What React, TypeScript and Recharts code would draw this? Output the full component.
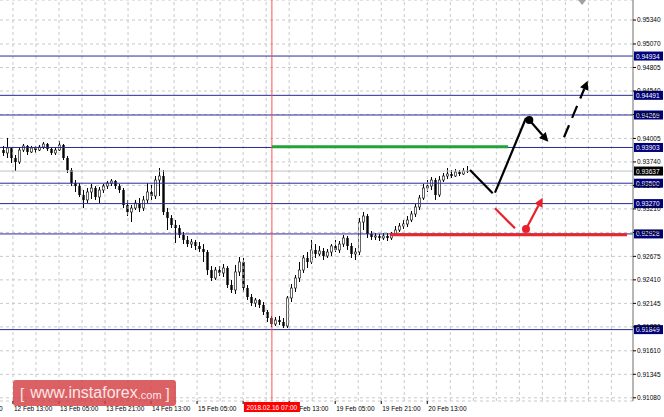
import React from 'react';
import { ComposedChart, Bar, XAxis, YAxis, CartesianGrid, ReferenceLine, ReferenceDot } from 'recharts';

// [open, high, low, close]
const candles: [number, number, number, number][] = [
  [0.93874, 0.93920, 0.93807, 0.93841], [0.93841, 0.94010, 0.93784, 0.93897], [0.93897, 0.93908, 0.93728, 0.93784],
  [0.93784, 0.93818, 0.93638, 0.93739], [0.93739, 0.93897, 0.93717, 0.93874], [0.93874, 0.93942, 0.93852, 0.93920],
  [0.93920, 0.93931, 0.93818, 0.93852], [0.93852, 0.93920, 0.93841, 0.93897], [0.93897, 0.93920, 0.93841, 0.93874],
  [0.93874, 0.93931, 0.93863, 0.93908], [0.93908, 0.93965, 0.93886, 0.93942], [0.93942, 0.93953, 0.93863, 0.93886],
  [0.93886, 0.93908, 0.93818, 0.93841], [0.93841, 0.93897, 0.93818, 0.93874], [0.93874, 0.93976, 0.93863, 0.93931],
  [0.93931, 0.93942, 0.93762, 0.93784], [0.93784, 0.93807, 0.93615, 0.93649], [0.93649, 0.93671, 0.93468, 0.93502],
  [0.93502, 0.93536, 0.93401, 0.93468], [0.93468, 0.93502, 0.93344, 0.93367], [0.93367, 0.93423, 0.93220, 0.93311],
  [0.93311, 0.93446, 0.93277, 0.93401], [0.93401, 0.93491, 0.93322, 0.93446], [0.93446, 0.93468, 0.93311, 0.93344],
  [0.93344, 0.93457, 0.93277, 0.93423], [0.93423, 0.93491, 0.93390, 0.93468], [0.93468, 0.93525, 0.93435, 0.93502],
  [0.93502, 0.93547, 0.93468, 0.93525], [0.93525, 0.93536, 0.93435, 0.93468], [0.93468, 0.93491, 0.93390, 0.93423],
  [0.93423, 0.93446, 0.93220, 0.93254], [0.93254, 0.93311, 0.93130, 0.93175], [0.93175, 0.93254, 0.93062, 0.93220],
  [0.93220, 0.93311, 0.93198, 0.93277], [0.93277, 0.93333, 0.93175, 0.93220], [0.93220, 0.93356, 0.93187, 0.93311],
  [0.93311, 0.93502, 0.93277, 0.93401], [0.93401, 0.93480, 0.93311, 0.93356], [0.93356, 0.93581, 0.93322, 0.93536],
  [0.93536, 0.93671, 0.93356, 0.93581], [0.93581, 0.93649, 0.93141, 0.93175], [0.93175, 0.93220, 0.92972, 0.93108],
  [0.93108, 0.93141, 0.92995, 0.93029], [0.93029, 0.93085, 0.92826, 0.92995], [0.92995, 0.93029, 0.92882, 0.92916],
  [0.92916, 0.92950, 0.92814, 0.92860], [0.92860, 0.92905, 0.92781, 0.92814], [0.92814, 0.92871, 0.92769, 0.92837],
  [0.92837, 0.92860, 0.92747, 0.92792], [0.92792, 0.92837, 0.92724, 0.92758], [0.92758, 0.92814, 0.92612, 0.92724],
  [0.92724, 0.92747, 0.92465, 0.92521], [0.92521, 0.92566, 0.92397, 0.92431], [0.92431, 0.92555, 0.92409, 0.92521],
  [0.92521, 0.92566, 0.92454, 0.92488], [0.92488, 0.92589, 0.92442, 0.92544], [0.92544, 0.92566, 0.92318, 0.92352],
  [0.92352, 0.92409, 0.92262, 0.92296], [0.92296, 0.92578, 0.92251, 0.92499], [0.92499, 0.92668, 0.92454, 0.92612],
  [0.92612, 0.92657, 0.92273, 0.92318], [0.92318, 0.92352, 0.92183, 0.92217], [0.92217, 0.92251, 0.92115, 0.92149],
  [0.92149, 0.92206, 0.92104, 0.92183], [0.92183, 0.92194, 0.92093, 0.92127], [0.92127, 0.92160, 0.92014, 0.92048],
  [0.92048, 0.92070, 0.91935, 0.91980], [0.91980, 0.92003, 0.91878, 0.91912], [0.91912, 0.91991, 0.91890, 0.91957],
  [0.91957, 0.92003, 0.91901, 0.91935], [0.91935, 0.91980, 0.91867, 0.91890], [0.91890, 0.92228, 0.91867, 0.92206],
  [0.92206, 0.92363, 0.92160, 0.92318], [0.92318, 0.92465, 0.92273, 0.92431], [0.92431, 0.92612, 0.92386, 0.92521],
  [0.92521, 0.92690, 0.92488, 0.92657], [0.92657, 0.92724, 0.92544, 0.92612], [0.92612, 0.92860, 0.92589, 0.92747],
  [0.92747, 0.92814, 0.92657, 0.92702], [0.92702, 0.92792, 0.92679, 0.92736], [0.92736, 0.92769, 0.92634, 0.92679],
  [0.92679, 0.92758, 0.92657, 0.92724], [0.92724, 0.92814, 0.92679, 0.92792], [0.92792, 0.92860, 0.92724, 0.92747],
  [0.92747, 0.92848, 0.92713, 0.92814], [0.92814, 0.92916, 0.92781, 0.92882], [0.92882, 0.92905, 0.92747, 0.92792],
  [0.92792, 0.92826, 0.92657, 0.92702], [0.92702, 0.92769, 0.92634, 0.92724], [0.92724, 0.93108, 0.92690, 0.93062],
  [0.93062, 0.93175, 0.92972, 0.93130], [0.93130, 0.93153, 0.92882, 0.92927], [0.92927, 0.92961, 0.92860, 0.92893],
  [0.92893, 0.92938, 0.92860, 0.92905], [0.92905, 0.92927, 0.92848, 0.92882], [0.92882, 0.92938, 0.92860, 0.92905],
  [0.92905, 0.92938, 0.92848, 0.92882], [0.92882, 0.92950, 0.92860, 0.92927], [0.92927, 0.93017, 0.92905, 0.92972],
  [0.92972, 0.93051, 0.92950, 0.93017], [0.93017, 0.93085, 0.92984, 0.93040], [0.93040, 0.93130, 0.93006, 0.93085],
  [0.93085, 0.93187, 0.93062, 0.93153], [0.93153, 0.93265, 0.93119, 0.93232], [0.93232, 0.93367, 0.93198, 0.93333],
  [0.93333, 0.93491, 0.93311, 0.93446], [0.93446, 0.93536, 0.93401, 0.93468], [0.93468, 0.93570, 0.93423, 0.93536],
  [0.93536, 0.93559, 0.93311, 0.93367], [0.93367, 0.93581, 0.93344, 0.93536], [0.93536, 0.93615, 0.93514, 0.93581],
  [0.93581, 0.93671, 0.93547, 0.93604], [0.93604, 0.93649, 0.93559, 0.93581], [0.93581, 0.93660, 0.93570, 0.93626],
  [0.93626, 0.93649, 0.93581, 0.93604], [0.93604, 0.93671, 0.93593, 0.93638], [0.93638, 0.93694, 0.93615, 0.93637],
];

const CHART_W = 664;
const CHART_H = 417;
const XAXIS_H = 16;
const YAXIS_W = 31;

const TOTAL_SLOTS = 158;
const Y_DOMAIN: [number, number] = [0.91044, 0.95566];
const TIME_DOMAIN: [number, number] = [0, 220];

const priceTicks = [
  0.9534, 0.9507, 0.94805, 0.9454, 0.94275, 0.94005, 0.9374, 0.93475, 0.9321,
  0.92945, 0.92675, 0.9241, 0.92145, 0.9188, 0.9161, 0.91345, 0.9108,
];
const levels = [0.94934, 0.94491, 0.94269, 0.93903, 0.935, 0.9327, 0.92928, 0.91849];
const currentPrice = 0.93637;

const timeLabels = [
  '9 Feb 21:00', '12 Feb 13:00', '13 Feb 05:00', '13 Feb 21:00', '14 Feb 13:00', '15 Feb 05:00',
  '15 Feb 21:00', '16 Feb 13:00', '19 Feb 05:00', '19 Feb 21:00', '20 Feb 13:00',
];
const timeLabelHours = [-11.5, 4.5, 20.5, 36.5, 52.5, 68.5, 84.5, 100.5, 116.5, 132.5, 148.5];
const gridHours = [
  4.5, 12.5, 20.5, 28.5, 36.5, 44.5, 52.5, 60.5, 68.5, 76.5, 84.5, 92.5, 100.5, 108.5,
  116.5, 124.5, 132.5, 140.5, 148.5, 156.5, 164.5, 172.5, 180.5, 188.5, 196.5, 204.5, 212.5,
];

const markerHour = 94.5;
const markerLabel = '2018.02.16 07:00';
const shiftMarkerHour = 202.3;

const greenLevel = { from: 94.5, to: 176.6, price: 0.9391 };
const redLevel = { from: 135.5, to: 217.9, price: 0.9292 };

type Seg = { x1: number; y1: number; x2: number; y2: number; color: string; dashed: boolean; head: boolean };
const arrowSegments: Seg[] = [
  { x1: 163.35, y1: 0.93649, x2: 171.24, y2: 0.93386, color: '#000', dashed: false, head: false },
  { x1: 172.04, y1: 0.93393, x2: 182.81, y2: 0.94235, color: '#000', dashed: false, head: false },
  { x1: 183.96, y1: 0.94213, x2: 190.56, y2: 0.93968, color: '#000', dashed: false, head: true },
  { x1: 196.02, y1: 0.94018, x2: 204.25, y2: 0.94656, color: '#000', dashed: true, head: true },
  { x1: 172.04, y1: 0.93217, x2: 178.99, y2: 0.92991, color: '#e8202a', dashed: false, head: false },
  { x1: 182.81, y1: 0.92984, x2: 188.62, y2: 0.93337, color: '#e8202a', dashed: false, head: true },
];
const arrowDots = [
  { x: 183.96, y: 0.94213, color: '#000' },
  { x: 182.81, y: 0.92984, color: '#e8202a' },
];

const FONT = 'Liberation Sans, Arial, sans-serif';

const chartData = Array.from({ length: TOTAL_SLOTS }, (_, i) => {
  const c = candles[i];
  if (!c) return { slot: i };
  return { slot: i, o: c[0], h: c[1], l: c[2], c: c[3], range: [c[2], c[1]] };
});

const Candle = (props: any) => {
  const { x, y, width, height, payload } = props;
  if (!payload || payload.o == null) return null;
  const { o, h, l, c } = payload;
  const top = Math.min(y, y + height);
  const hh = Math.abs(height);
  const span = h - l;
  const py = (p: number) => (span === 0 ? top : top + ((h - p) / span) * hh);
  const cx = Math.round(x + width / 2) + 0.5;
  const yo = py(o);
  const yc = py(c);
  const bt = Math.min(yo, yc);
  const bb = Math.max(yo, yc);
  const bull = c >= o;
  return (
    <g>
      <line x1={cx} x2={cx} y1={top} y2={top + hh} stroke="#000" strokeWidth={1} />
      {bull ? (
        <rect x={cx - 1} y={bt} width={2} height={Math.max(bb - bt, 1)} fill="#fff" stroke="#222" strokeWidth={0.7} />
      ) : (
        <rect x={cx - 1.2} y={bt} width={2.4} height={Math.max(bb - bt, 1)} fill="#000" />
      )}
    </g>
  );
};

const levelLabel = (value: number, bg: string) => (props: any) => {
  const vb = props.viewBox || {};
  const xr = (vb.x ?? 0) + (vb.width ?? 0);
  const y = vb.y ?? 0;
  return (
    <g>
      <rect x={xr + 1} y={y - 4.5} width={29} height={9} fill={bg} />
      <text x={xr + 3} y={y + 2.5} fontSize={6.5} fill="#fff" fontFamily={FONT}>
        {value.toFixed(5)}
      </text>
    </g>
  );
};

const arrowShape = (color: string, dashed: boolean, head: boolean) => (p: any) => {
  const { x1, y1, x2, y2 } = p;
  if ([x1, y1, x2, y2].some((v) => typeof v !== 'number' || isNaN(v))) return null;
  const dx = x2 - x1;
  const dy = y2 - y1;
  const len = Math.sqrt(dx * dx + dy * dy) || 1;
  const ux = dx / len;
  const uy = dy / len;
  const hl = head ? 9 : 0;
  const hw = 4.5;
  const ex = x2 - ux * hl;
  const ey = y2 - uy * hl;
  return (
    <g>
      <line x1={x1} y1={y1} x2={ex} y2={ey} stroke={color} strokeWidth={2.2} strokeDasharray={dashed ? '13 8' : undefined} />
      {head && (
        <polygon
          points={`${x2},${y2} ${ex - uy * hw},${ey + ux * hw} ${ex + uy * hw},${ey - ux * hw}`}
          fill={color}
        />
      )}
    </g>
  );
};

const triangleShape = (p: any) => {
  const { cx, cy } = p;
  if (typeof cx !== 'number') return null;
  return <polygon points={`${cx - 4},${cy} ${cx + 4},${cy} ${cx},${cy + 5}`} fill="#a0a0a0" />;
};

const AXIS_TOP = CHART_H - XAXIS_H;

const TimeTick = (props: any) => {
  const { x, payload } = props;
  if (typeof x !== 'number') return null;
  if (payload.value === markerHour) {
    return (
      <g>
        <rect x={x - 28} y={AXIS_TOP + 1} width={56} height={10} fill="#ff0000" />
        <text x={x} y={AXIS_TOP + 8.5} textAnchor="middle" fontSize={6.5} fill="#fff" fontFamily={FONT}>
          {markerLabel}
        </text>
      </g>
    );
  }
  const idx = timeLabelHours.indexOf(payload.value);
  if (idx < 0) return null;
  return (
    <g>
      <line x1={x} x2={x} y1={AXIS_TOP} y2={AXIS_TOP + 3} stroke="#000" />
      <text x={x + 1} y={AXIS_TOP + 10} fontSize={6.5} fill="#000" fontFamily={FONT}>
        {timeLabels[idx]}
      </text>
    </g>
  );
};

const timeAxisTicks = [...timeLabelHours, markerHour];

export default function App() {
  return (
    <div style={{ position: 'absolute', left: 0, top: 0, width: CHART_W, height: CHART_H, background: '#fff', fontFamily: FONT }}>
      <ComposedChart width={CHART_W} height={CHART_H} data={chartData} margin={{ top: 0, right: 0, bottom: 0, left: 0 }}>
        <CartesianGrid xAxisId="time" vertical={false} stroke="#c8c8c8" strokeDasharray="3 3" />
        <XAxis xAxisId="cat" dataKey="slot" type="category" hide />
        <XAxis
          xAxisId="time"
          dataKey="hourOfDay"
          type="number"
          domain={TIME_DOMAIN}
          allowDataOverflow
          ticks={timeAxisTicks}
          interval={0}
          height={XAXIS_H}
          tickSize={0.001}
          tickMargin={0.001}
          tickLine={false}
          axisLine={{ stroke: '#8a8a8a', strokeDasharray: '3 2' }}
          tick={<TimeTick />}
        />
        <YAxis
          orientation="right"
          type="number"
          width={YAXIS_W}
          domain={Y_DOMAIN}
          allowDataOverflow
          ticks={priceTicks}
          interval={0}
          tickSize={3}
          tickMargin={1}
          tickFormatter={(v: number) => v.toFixed(5)}
          tick={{ fontSize: 6.5, fill: '#000', fontFamily: FONT }}
          tickLine={{ stroke: '#000' }}
          axisLine={{ stroke: '#6e6e6e' }}
        />
        {gridHours.map((h) => (
          <ReferenceLine key={'g' + h} xAxisId="time" x={h} stroke="#c8c8c8" strokeDasharray="3 3" />
        ))}
        <ReferenceLine xAxisId="time" y={currentPrice} stroke="#c0c0c0" strokeWidth={1} label={levelLabel(currentPrice, '#000')} />
        {levels.map((v) => (
          <ReferenceLine key={v} xAxisId="time" y={v} stroke="#2a2a96" strokeWidth={1} label={levelLabel(v, '#00007a')} />
        ))}
        <Bar xAxisId="cat" dataKey="range" barSize={3} isAnimationActive={false} shape={<Candle />} />
        <ReferenceLine xAxisId="time" x={markerHour} stroke="#ff5050" strokeWidth={1} />
        <ReferenceLine
          xAxisId="time"
          segment={[{ x: greenLevel.from, y: greenLevel.price }, { x: greenLevel.to, y: greenLevel.price }]}
          stroke="#22a33a"
          strokeWidth={3}
        />
        <ReferenceLine
          xAxisId="time"
          segment={[{ x: redLevel.from, y: redLevel.price }, { x: redLevel.to, y: redLevel.price }]}
          stroke="#e8262e"
          strokeWidth={3}
        />
        {arrowSegments.map((s, i) => (
          <ReferenceLine
            key={'a' + i}
            xAxisId="time"
            segment={[{ x: s.x1, y: s.y1 }, { x: s.x2, y: s.y2 }]}
            shape={arrowShape(s.color, s.dashed, s.head)}
          />
        ))}
        {arrowDots.map((d, i) => (
          <ReferenceDot key={'d' + i} xAxisId="time" x={d.x} y={d.y} r={4} fill={d.color} stroke="none" />
        ))}
        <ReferenceDot xAxisId="time" x={shiftMarkerHour} y={Y_DOMAIN[1]} shape={triangleShape} />
      </ComposedChart>
      <div
        style={{
          position: 'absolute',
          left: 13,
          top: 380,
          width: 163,
          height: 26,
          background: 'rgba(212, 62, 66, 0.82)',
          borderRadius: 3,
          color: '#fbe6e6',
          whiteSpace: 'nowrap',
          display: 'flex',
          alignItems: 'center',
          paddingLeft: 7,
          boxSizing: 'border-box',
          fontFamily: FONT,
        }}
      >
        <span style={{ fontSize: 15 }}>[</span>
        <span style={{ fontSize: 16, marginLeft: 6 }}>www.instaforex</span>
        <span style={{ fontSize: 11, marginTop: 3 }}>.com</span>
        <span style={{ fontSize: 15, marginLeft: 4 }}>]</span>
      </div>
    </div>
  );
}
